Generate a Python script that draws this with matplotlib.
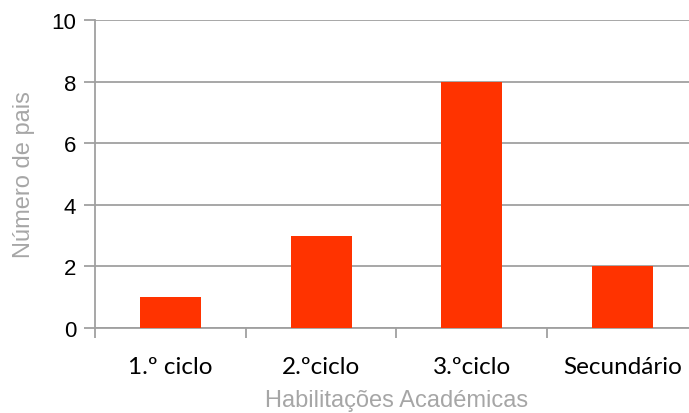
import matplotlib.pyplot as plt

# Dados: habilitações académicas dos pais
categorias = ['1.º ciclo', '2.ºciclo', '3.ºciclo', 'Secundário']
num_pais = [1, 3, 8, 2]

cor_barra = '#FF3300'
cinza = '#A0A0A0'

fig = plt.figure(figsize=(6.89, 4.14), dpi=100)
ax = fig.add_axes([0.1386, 0.2053, 0.8737, 0.744])

x = range(len(categorias))
ax.bar(x, num_pais, width=0.405, color=cor_barra, zorder=3)

ax.set_xlim(-0.5, len(categorias) - 0.5)
ax.set_ylim(0, 10)
ax.set_yticks(range(0, 11, 2))
ax.yaxis.grid(True, color=cinza, linewidth=1.3, zorder=0)

# ticks do eixo x entre categorias, rótulos ao centro
ax.set_xticks([i - 0.5 for i in x])
ax.set_xticklabels([])
ax.set_xticks(list(x), minor=True)
ax.set_xticklabels(categorias, minor=True, fontsize=17.5, family='Lato')
ax.tick_params(axis='x', which='minor', length=0, pad=20)
ax.tick_params(axis='x', which='major', length=7, width=1.3, color=cinza,
               direction='out')
ax.tick_params(axis='y', length=8, width=1.3, color=cinza, pad=6)
for lbl in ax.get_yticklabels():
    lbl.set_fontsize(16)
    lbl.set_family('Liberation Sans')

for s in ['top', 'right']:
    ax.spines[s].set_visible(False)
for s in ['left', 'bottom']:
    ax.spines[s].set_color(cinza)
    ax.spines[s].set_linewidth(1.3)

ax.set_xlabel('Habilitações Académicas', fontsize=17, color='#A6A6A6',
              family='Liberation Sans', labelpad=9)
ax.set_ylabel('Número de pais', fontsize=17, color='#A6A6A6',
              family='Liberation Sans', labelpad=12)

fig.savefig('out.png', dpi=100)
